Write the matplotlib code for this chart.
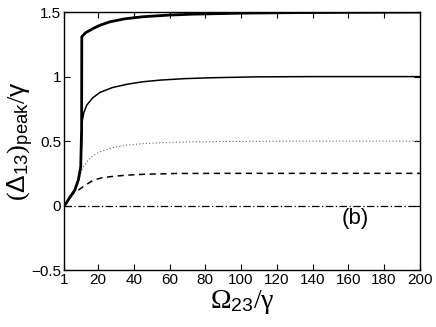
import matplotlib
matplotlib.use("Agg")
import matplotlib.pyplot as plt

plt.rcParams['font.family'] = ['Liberation Sans', 'DejaVu Sans']
plt.rcParams['mathtext.fontset'] = 'custom'
plt.rcParams['mathtext.rm'] = 'Liberation Serif'
plt.rcParams['mathtext.it'] = 'Liberation Serif:italic'
plt.rcParams['mathtext.sf'] = 'Liberation Sans'
plt.rcParams['mathtext.bf'] = 'Liberation Sans:bold'

# thick solid curve
x_thick = [1, 2, 4.4, 7, 9, 10.3, 10.8, 10.9, 13, 17.4, 21, 26.7, 35, 45, 60, 73, 101, 130, 160, 200]
y_thick = [0, 0.015, 0.068, 0.12, 0.2, 0.3, 0.6, 1.309, 1.34, 1.374, 1.398, 1.425, 1.448, 1.464, 1.477, 1.484, 1.492, 1.496, 1.498, 1.5]
# thin solid curve
x_thin = [1, 2, 4.4, 7, 9, 10.3, 10.8, 11.2, 12, 13.7, 17, 21, 28, 36, 45, 55, 68, 83, 109, 140, 170, 200]
y_thin = [0, 0.015, 0.068, 0.12, 0.2, 0.3, 0.5, 0.66, 0.72, 0.779, 0.835, 0.877, 0.915, 0.94, 0.96, 0.973, 0.984, 0.991, 0.998, 1.0, 1.0, 1.0]
# dotted curve
x_dot = [1, 2, 4.4, 7, 9, 10.5, 11.8, 14, 17, 21, 28, 36, 45, 55, 70, 90, 120, 160, 200]
y_dot = [0, 0.015, 0.068, 0.12, 0.2, 0.26, 0.30, 0.345, 0.385, 0.417, 0.449, 0.469, 0.48, 0.487, 0.493, 0.497, 0.499, 0.5, 0.5]
# dashed curve
x_dash = [1, 2, 4.4, 7, 9, 12, 14, 17.4, 22, 28, 36, 46, 64, 90, 120, 160, 200]
y_dash = [0, 0.015, 0.068, 0.105, 0.12, 0.15, 0.168, 0.198, 0.215, 0.226, 0.236, 0.243, 0.249, 0.25, 0.25, 0.25, 0.25]
# dash-dot curve
x_dd = [1, 200]
y_dd = [0, 0]

xticks = [1, 20, 40, 60, 80, 100, 120, 140, 160, 180, 200]
yticks = [-0.5, 0, 0.5, 1, 1.5]
ytick_labels = ['\u22120.5', '0', '0.5', '1', '1.5']

fig = plt.figure(figsize=(4.36, 3.27), dpi=100)
ax = fig.add_axes([0.147, 0.174, 0.816, 0.789])

ax.plot(x_dd, y_dd, color='black', lw=0.9, ls=(0, (6, 2, 1, 2)))
ax.plot(x_dash, y_dash, color='black', lw=1.1, ls=(0, (4, 3)))
ax.plot(x_dot, y_dot, color='#666666', lw=0.8, ls=(0, (1, 2)))
ax.plot(x_thin, y_thin, color='black', lw=1.1)
ax.plot(x_thick, y_thick, color='black', lw=2.0)

ax.set_xlim(1, 200)
ax.set_ylim(-0.5, 1.5)
ax.set_xticks(xticks)
ax.set_xticklabels([str(t) for t in xticks])
ax.set_yticks(yticks)
ax.set_yticklabels(ytick_labels)
ax.tick_params(direction='in', top=True, right=True, labelsize=11, length=4, width=0.8, pad=2)
for s in ax.spines.values():
    s.set_linewidth(1.0)

ax.set_xlabel(r'$\mathrm{\Omega}_{\mathsf{23}}/\mathrm{\gamma}$', fontsize=20, labelpad=1)
ax.set_ylabel(r'$(\mathsf{\Delta}_{\mathsf{13}})_{\mathsf{peak}}/\mathsf{\gamma}$', fontsize=19)
ax.yaxis.set_label_coords(-0.08, 0.5)
ax.text(164, -0.1, '(b)', fontsize=16, ha='center', va='center')

fig.savefig('out.png', dpi=100)
